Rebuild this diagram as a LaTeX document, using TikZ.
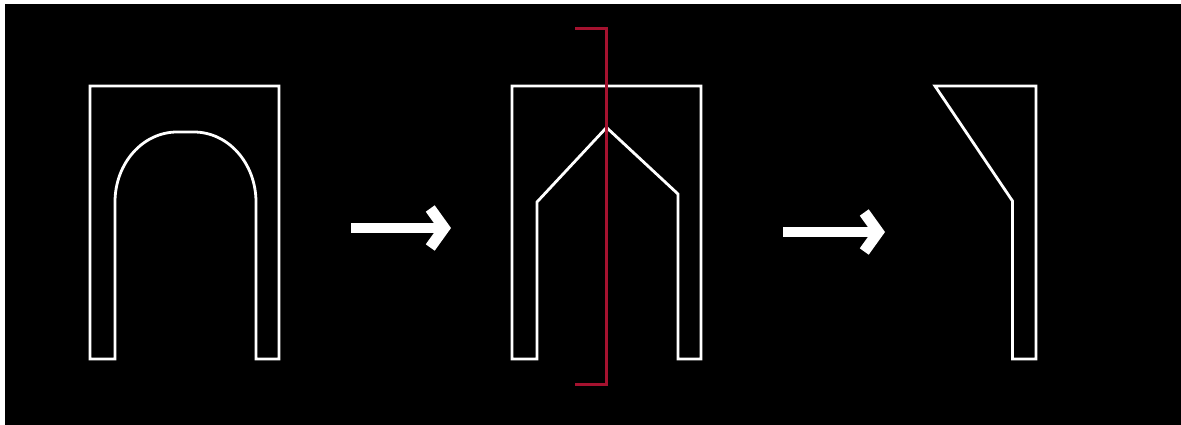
\documentclass[tikz,border=0pt]{standalone}
\usepackage{tikz}
\usepackage{xcolor}
\usetikzlibrary{arrows.meta}
\definecolor{Cut_Red}{HTML}{A5122F}

\begin{document}
\begin{tikzpicture}[x=0.02cm, y=-0.02cm,
    profile/.style={draw=white, line width=0.056cm, line join=miter},
    cutline/.style={draw=Cut_Red, line width=0.064cm, line join=miter},
    bigarrow/.style={draw=white, line width=0.19cm, -{Straight Barb[length=0.28cm, width=0.78cm, line width=0.22cm]}}]
    % Background
    \useasboundingbox (0,0) rectangle (1181,424);
    \fill[white] (0,0) rectangle (1181,424);
    \fill[black] (5,4) rectangle (1190,430);

    % Arch profile
    \draw[profile] (90,86) -- (279,86) -- (279,359) -- (256,359) -- (256,202)
        arc[start angle=360, end angle=270, x radius=62, y radius=70] -- (177,132)
        arc[start angle=270, end angle=180, x radius=62, y radius=70] -- (115,359) -- (90,359) -- cycle;

    % Polygon profile
    \draw[profile] (512,86) -- (701,86) -- (701,359) -- (678,359) -- (678,194) -- (606.5,127.5)
        -- (537,202) -- (537,359) -- (512,359) -- cycle;

    % Section line
    \draw[cutline] (575,28.5) -- (606.5,28.5) -- (606.5,384.5) -- (575,384.5);

    % Half profile
    \draw[profile] (935,86) -- (1036,86) -- (1036,359) -- (1012.5,359) -- (1012.5,201) -- cycle;

    % Arrows
    \coordinate (arrow1start) at (351,228);
    \coordinate (arrow1end) at (451,228);
    \coordinate (arrow2start) at (783,232);
    \coordinate (arrow2end) at (885,232);
    \draw[bigarrow] (arrow1start) -- (arrow1end);
    \draw[bigarrow] (arrow2start) -- (arrow2end);
\end{tikzpicture}
\end{document}
